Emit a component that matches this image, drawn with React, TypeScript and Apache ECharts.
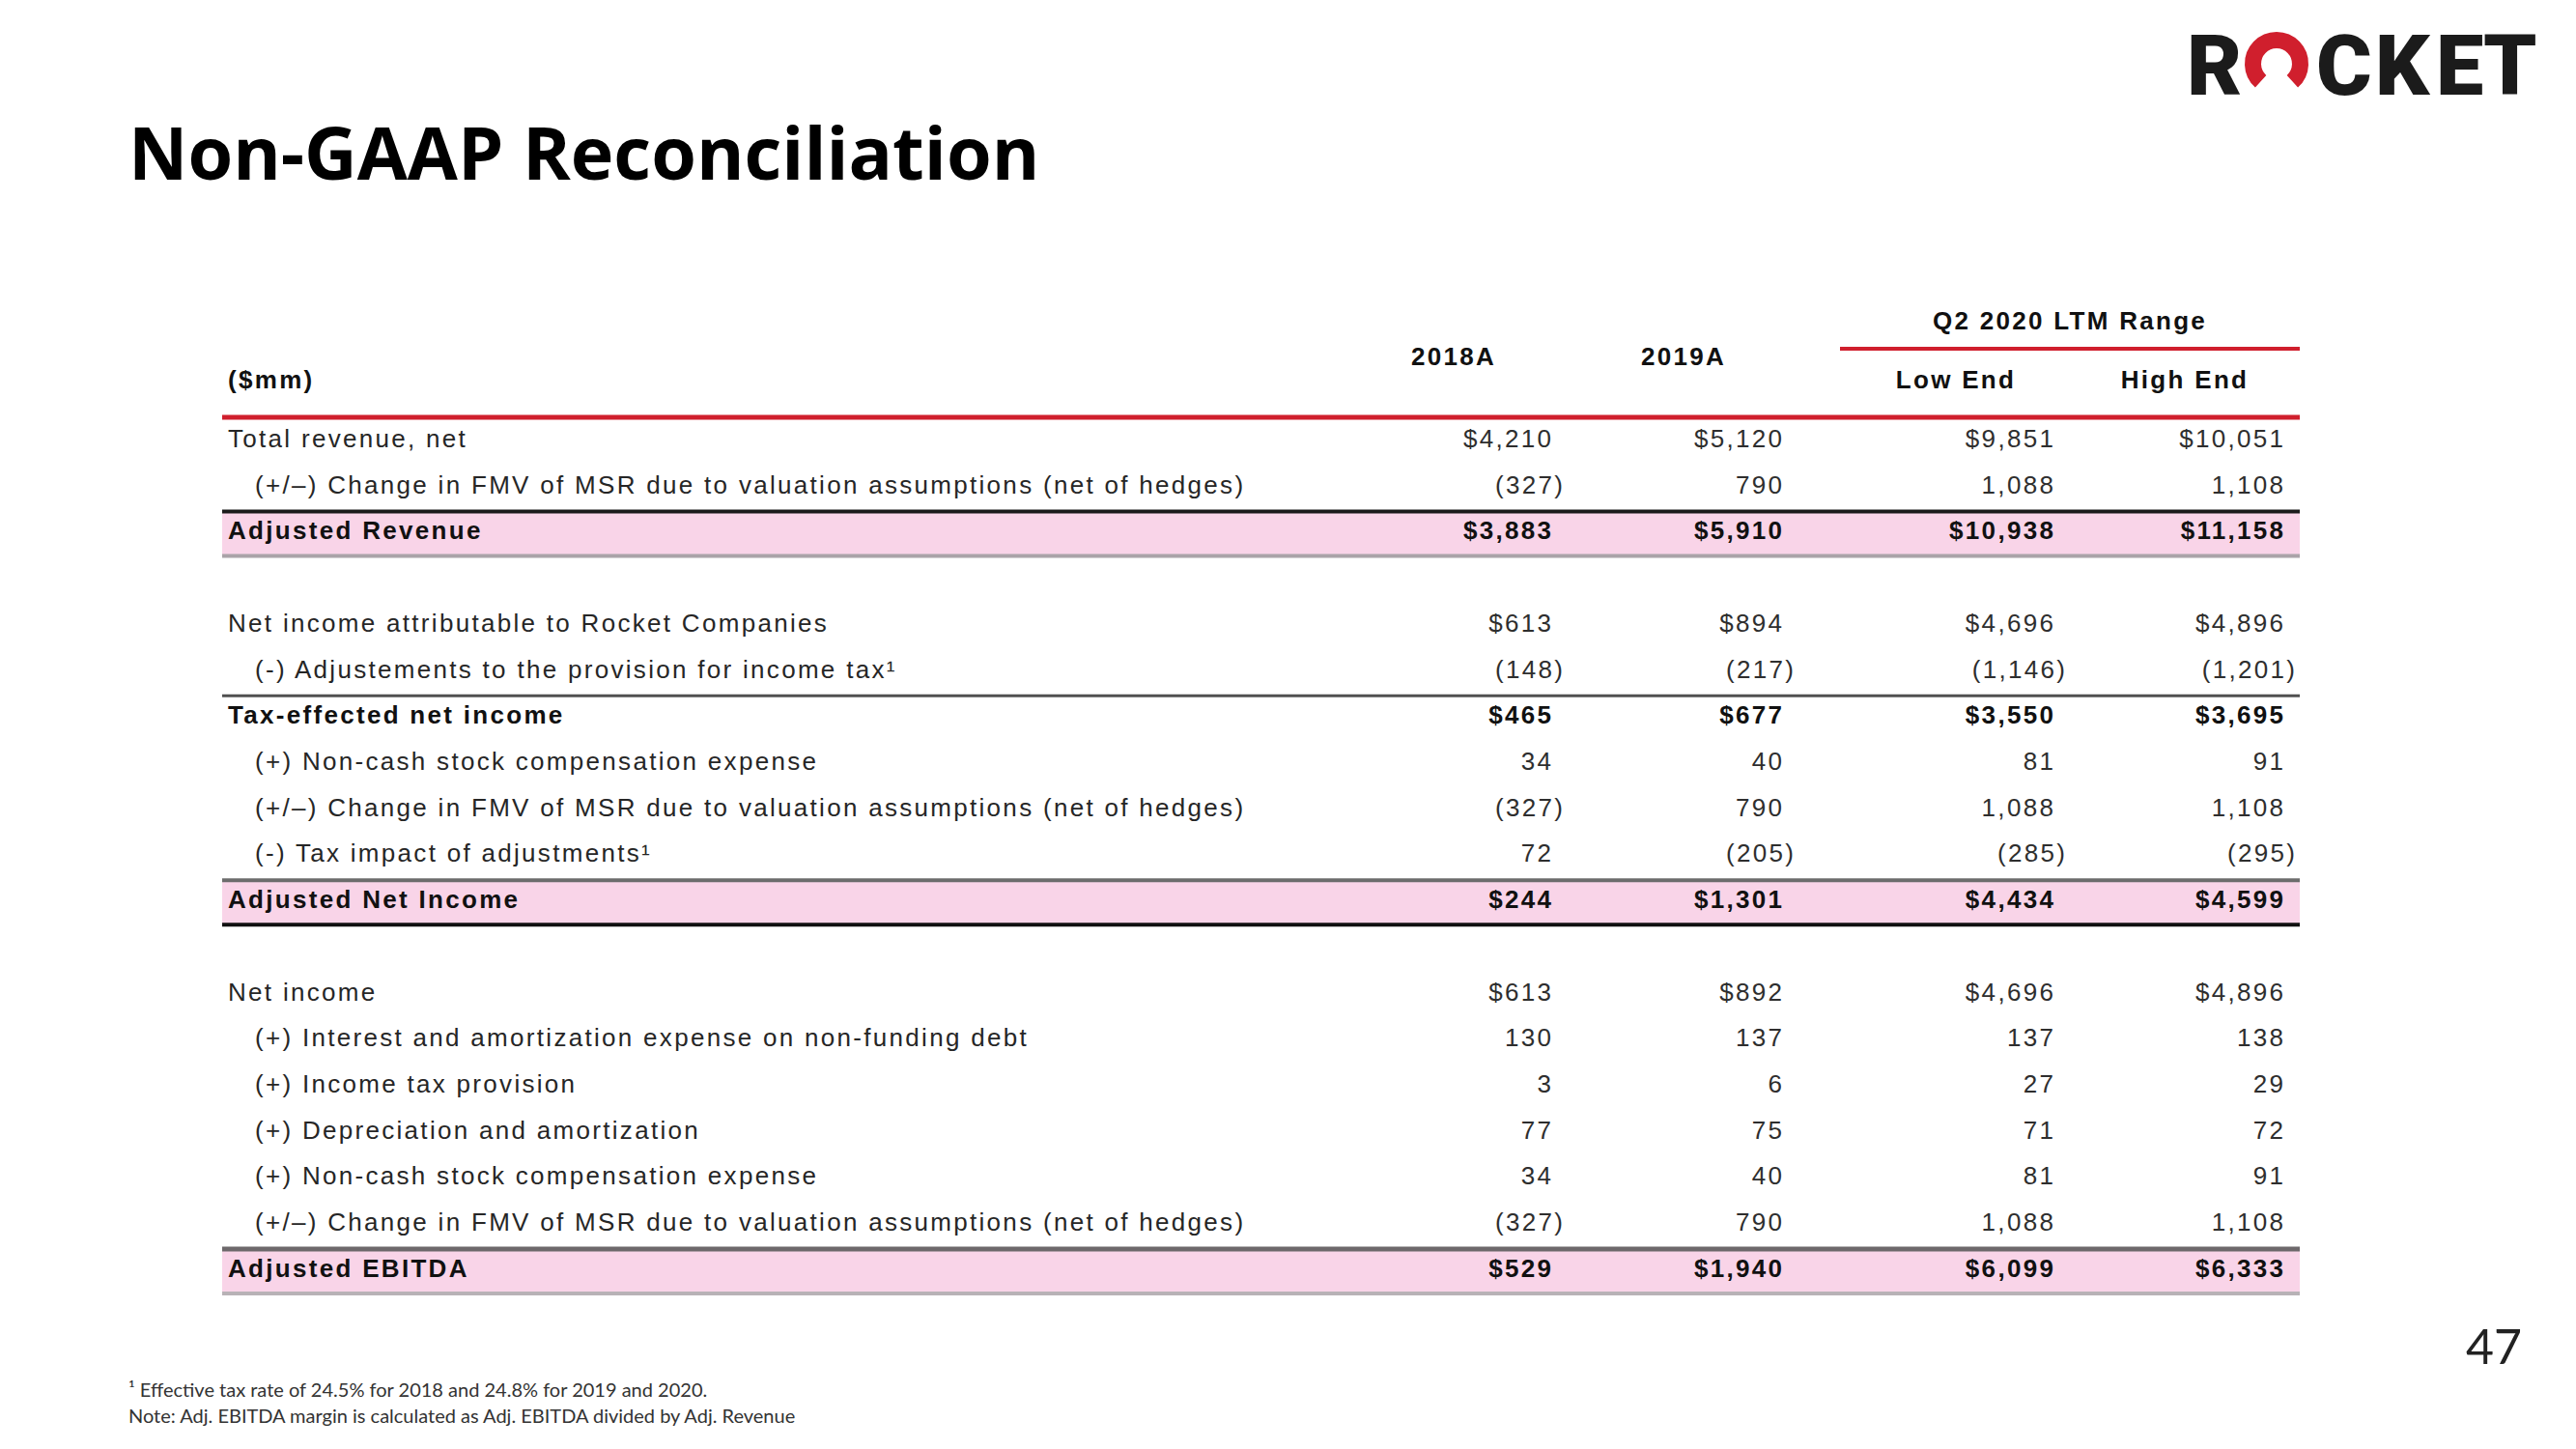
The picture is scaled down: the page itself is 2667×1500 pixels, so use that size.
import React, { useEffect, useRef } from "react";
import * as echarts from "echarts";

// ---------- data ----------
const rowLabels = [
  "Total revenue, net",
  "(+/\u2013) Change in FMV of MSR due to valuation assumptions (net of hedges)",
  "Adjusted Revenue",
  "",
  "Net income attributable to Rocket Companies",
  "(-) Adjustements to the provision for income tax\u00B9",
  "Tax-effected net income",
  "(+) Non-cash stock compensation expense",
  "(+/\u2013) Change in FMV of MSR due to valuation assumptions (net of hedges)",
  "(-) Tax impact of adjustments\u00B9",
  "Adjusted Net Income",
  "",
  "Net income",
  "(+) Interest and amortization expense on non-funding debt",
  "(+) Income tax provision",
  "(+) Depreciation and amortization",
  "(+) Non-cash stock compensation expense",
  "(+/\u2013) Change in FMV of MSR due to valuation assumptions (net of hedges)",
  "Adjusted EBITDA",
];
const rowKinds = [
  "main", "sub", "total", "blank",
  "main", "sub", "subtotal", "sub", "sub", "sub", "total", "blank",
  "main", "sub", "sub", "sub", "sub", "sub", "total",
];
const dollarRows = [0, 2, 4, 6, 10, 12, 18];

const columnHeaders = ["2018A", "2019A", "Low End", "High End"];
const groupHeader = "Q2 2020 LTM Range";
const unitLabel = "($mm)";

const values2018A = [4210, -327, 3883, null, 613, -148, 465, 34, -327, 72, 244, null, 613, 130, 3, 77, 34, -327, 529];
const values2019A = [5120, 790, 5910, null, 894, -217, 677, 40, 790, -205, 1301, null, 892, 137, 6, 75, 40, 790, 1940];
const valuesLowEnd = [9851, 1088, 10938, null, 4696, -1146, 3550, 81, 1088, -285, 4434, null, 4696, 137, 27, 71, 81, 1088, 6099];
const valuesHighEnd = [10051, 1108, 11158, null, 4896, -1201, 3695, 91, 1108, -295, 4599, null, 4896, 138, 29, 72, 91, 1108, 6333];
const columns = [values2018A, values2019A, valuesLowEnd, valuesHighEnd];

const titleText = "Non-GAAP Reconciliation";
const footnotes = [
  "\u00B9 Effective tax rate of 24.5% for 2018 and 24.8% for 2019 and 2020.",
  "Note: Adj. EBITDA margin is calculated as Adj. EBITDA divided by Adj. Revenue",
];
const pageNumber = "47";

// ---------- layout / style ----------
const W = 2667;
const H = 1500;
const TFONT = '"Liberation Sans", Arial, sans-serif';
const SPACING = 2.3;
const RED = "#D01F2D";
const PINK = "#F9D4E8";
const colRightFrac = [0.6397, 0.7508, 0.8814, 0.9921];
const labelFrac = { main: 0.0028, sub: 0.0158 };
const rowRules: Record<number, { top?: [string, number]; bottom?: [string, number] }> = {
  2: { top: ["#1a1a1a", 4], bottom: ["#aaa3a8", 4] },
  6: { top: ["#505050", 3] },
  10: { top: ["#6c6c6c", 4], bottom: ["#111111", 4] },
  18: { top: ["#6d686b", 5], bottom: ["#b8b2b6", 4] },
};

function fmt(v: number | null, dollar: boolean): string {
  if (v === null || v === undefined) return "";
  const s = String(Math.abs(v)).replace(/\B(?=(\d{3})+(?!\d))/g, ",");
  const body = (dollar ? "$" : "") + s;
  return v < 0 ? "(" + body + ")" : body;
}

export default function App() {
  const ref = useRef<HTMLDivElement>(null);

  useEffect(() => {
    if (!ref.current) return;
    const chart = echarts.init(ref.current, undefined, { renderer: "svg" });

    const rowData = rowKinds
      .map((k, i) => (k === "blank" ? null : [0, i]))
      .filter((d) => d !== null);

    const renderItem = (params: any, api: any) => {
      const i = api.value(1);
      const kind = rowKinds[i];
      const cs = params.coordSys;
      const yc = api.coord([0, i])[1];
      const left = cs.x;
      const children: any[] = [];
      const isBold = kind === "total" || kind === "subtotal";
      if (kind === "total") {
        children.push({
          type: "rect",
          shape: { x: left, y: yc - 20, width: cs.width, height: 46 },
          style: { fill: PINK },
        });
      }
      const rules = rowRules[i];
      if (rules && rules.top) {
        const [c, t] = rules.top;
        children.push({ type: "rect", shape: { x: left, y: yc - 20 - t / 2, width: cs.width, height: t }, style: { fill: c } });
      }
      if (rules && rules.bottom) {
        const [c, t] = rules.bottom;
        children.push({ type: "rect", shape: { x: left, y: yc + 26 - t / 2, width: cs.width, height: t }, style: { fill: c } });
      }
      const lx = api.coord([kind === "sub" ? labelFrac.sub : labelFrac.main, i])[0];
      children.push({
        type: "text",
        x: lx,
        y: yc,
        style: {
          text: rowLabels[i],
          fontFamily: TFONT,
          fontSize: 26,
          fontWeight: isBold ? "bold" : "normal",
          fill: isBold ? "#111111" : "#262626",
          align: "left",
          verticalAlign: "middle",
        },
      });
      const dollar = dollarRows.indexOf(i) >= 0;
      columns.forEach((vals, c) => {
        const v = vals[i];
        if (v === null) return;
        const x = api.coord([colRightFrac[c], i])[0] + (v < 0 ? 12 : 0) + SPACING;
        children.push({
          type: "text",
          x,
          y: yc,
          style: {
            text: fmt(v, dollar),
            fontFamily: TFONT,
            fontSize: 26,
            fontWeight: isBold ? "bold" : "normal",
            fill: isBold ? "#111111" : "#2e2e2e",
            align: "right",
            verticalAlign: "middle",
          },
        });
      });
      return { type: "group", children };
    };

    const hdr = (text: string, x: number, y: number, align: string) => ({
      type: "text",
      x,
      y,
      style: {
        text,
        fontFamily: TFONT,
        fontSize: 26,
        fontWeight: "bold",
        fill: "#111111",
        align,
        verticalAlign: "middle",
      },
    });

    const logoFont = { fontFamily: "Roboto, sans-serif", fontSize: 88, fontWeight: 900, fill: "#1b1b1b", verticalAlign: "middle", align: "left" };
    const logoLetters = [
      ["R", 2264],
      ["C", 2398],
      ["K", 2459],
      ["E", 2522],
      ["T", 2571],
    ];

    const option: any = {
      animation: false,
      backgroundColor: "#ffffff",
      grid: { left: 230, right: W - 2381, top: 430.1, bottom: 163.2 },
      xAxis: { type: "value", min: 0, max: 1, show: false },
      yAxis: {
        type: "category",
        inverse: true,
        data: rowLabels.map((_, i) => String(i)),
        show: false,
      },
      series: [
        {
          type: "custom",
          silent: true,
          renderItem,
          data: rowData,
          clip: false,
        },
      ],
      graphic: [
        {
          type: "text",
          x: 133,
          y: 156,
          style: {
            text: titleText,
            fontFamily: '"Open Sans", sans-serif',
            fontSize: 75.5,
            fontWeight: "bold",
            fill: "#000000",
            align: "left",
            verticalAlign: "middle",
          },
        },
        ...logoLetters.map(([t, x]) => ({
          type: "text",
          x: x as number,
          y: 67,
          style: { text: t as string, ...logoFont },
        })),
        {
          type: "arc",
          shape: {
            cx: 2357,
            cy: 66,
            r: 24.5,
            startAngle: (132 * Math.PI) / 180,
            endAngle: (408 * Math.PI) / 180,
            clockwise: true,
          },
          style: { stroke: RED, lineWidth: 17, fill: null, lineCap: "butt" },
        },
        hdr(unitLabel, 236, 393, "left"),
        hdr(columnHeaders[0], 1505, 369, "center"),
        hdr(columnHeaders[1], 1743, 369, "center"),
        hdr(groupHeader, 2143, 332, "center"),
        hdr(columnHeaders[2], 2025, 393, "center"),
        hdr(columnHeaders[3], 2262, 393, "center"),
        { type: "rect", shape: { x: 1905, y: 359, width: 476, height: 4 }, style: { fill: RED } },
        { type: "rect", shape: { x: 230, y: 429.5, width: 2151, height: 5 }, style: { fill: RED } },
        {
          type: "text",
          x: 133,
          y: 1438,
          style: { text: footnotes[0], fontFamily: "Lato, sans-serif", fontSize: 20, fill: "#333333", align: "left", verticalAlign: "middle" },
        },
        {
          type: "text",
          x: 133,
          y: 1465,
          style: { text: footnotes[1], fontFamily: "Lato, sans-serif", fontSize: 20, fill: "#333333", align: "left", verticalAlign: "middle" },
        },
        {
          type: "text",
          x: 2553,
          y: 1393,
          style: { text: pageNumber, fontFamily: "Lato, sans-serif", fontSize: 50, fill: "#222222", align: "left", verticalAlign: "middle" },
        },
      ],
    };

    chart.setOption(option);

    const applySpacing = () => {
      if (!ref.current) return;
      ref.current.querySelectorAll("text").forEach((el) => {
        const st = el.getAttribute("style") || "";
        if (st.indexOf("Liberation") >= 0) el.setAttribute("letter-spacing", String(SPACING));
      });
    };
    applySpacing();
    chart.on("finished", applySpacing);

    return () => {
      chart.dispose();
    };
  }, []);

  return (
    <div
      ref={ref}
      style={{ position: "absolute", left: 0, top: 0, width: W, height: H, background: "#fff" }}
    />
  );
}
